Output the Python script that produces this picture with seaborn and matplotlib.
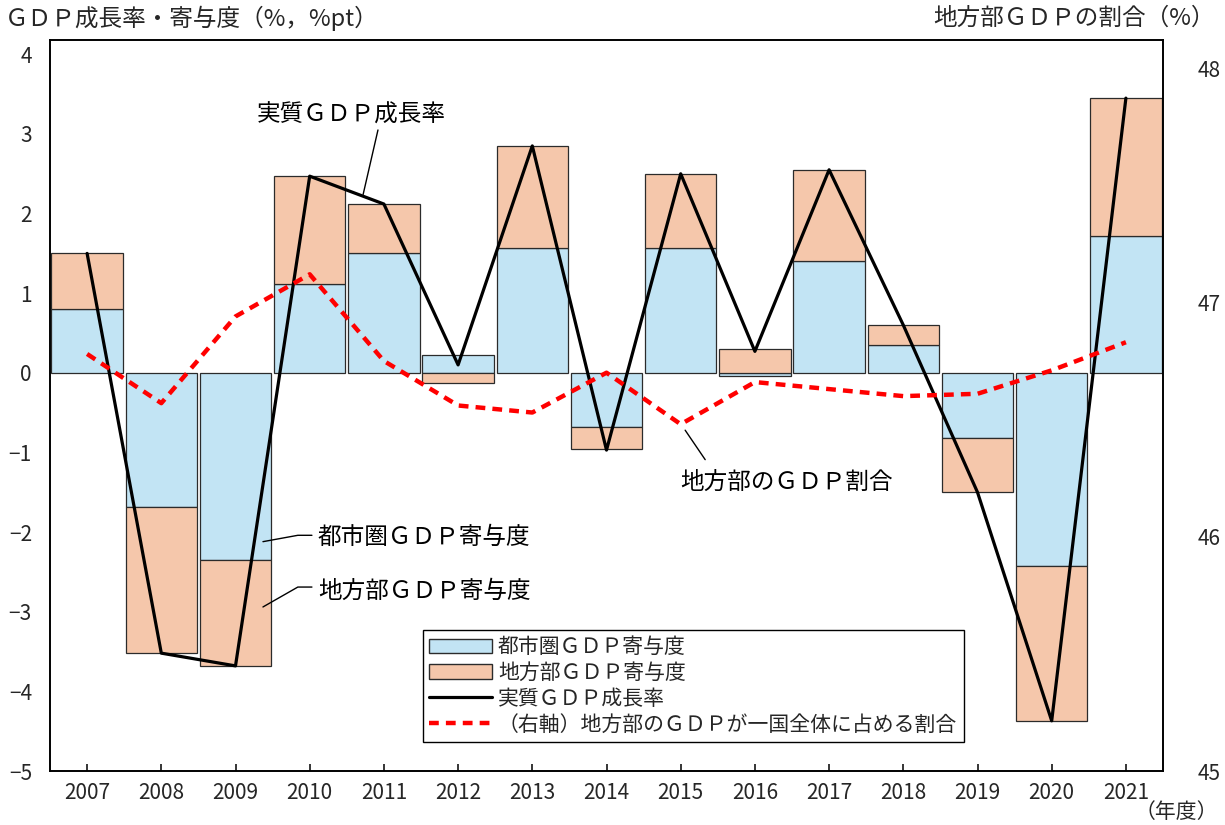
import numpy as np
import pandas as pd
import matplotlib
matplotlib.use("Agg")
import matplotlib.pyplot as plt
from matplotlib.patches import Patch
from matplotlib.lines import Line2D
import seaborn as sns

# ---- data ----
years = ["2007", "2008", "2009", "2010", "2011", "2012", "2013", "2014",
         "2015", "2016", "2017", "2018", "2019", "2020", "2021"]
urban = [0.80, -1.68, -2.35, 1.12, 1.50, 0.23, 1.57, -0.68,
         1.57, -0.04, 1.40, 0.35, -0.82, -2.43, 1.72]
regional = [0.70, -1.84, -1.33, 1.35, 0.62, -0.13, 1.28, -0.27,
            0.93, 0.30, 1.15, 0.25, -0.67, -1.94, 1.73]
growth = [1.50, -3.52, -3.68, 2.47, 2.12, 0.10, 2.85, -0.97,
          2.50, 0.27, 2.55, 0.60, -1.50, -4.37, 3.45]
share = [46.78, 46.57, 46.94, 47.12, 46.75, 46.56, 46.53, 46.70,
         46.48, 46.66, 46.63, 46.60, 46.61, 46.71, 46.83]
left_ticks = [-5, -4, -3, -2, -1, 0, 1, 2, 3, 4]
right_ticks = [45, 46, 47, 48]

lab_urban = "都市圏ＧＤＰ寄与度"
lab_reg = "地方部ＧＤＰ寄与度"
lab_growth = "実質ＧＤＰ成長率"
lab_share = "（右軸）地方部のＧＤＰが一国全体に占める割合"

sns.set_theme(style="white")
plt.rcParams["font.family"] = ["Noto Sans CJK JP", "DejaVu Sans"]
plt.rcParams["axes.unicode_minus"] = True

C_BLUE = "#C2E4F4"
C_PEACH = "#F5C7AB"
C_EDGE = "#2b2b2b"

fig = plt.figure(figsize=(12.25, 8.25), dpi=100)
ax = fig.add_axes([50 / 1225, 1 - 771 / 825, 1113 / 1225, 731 / 825])

df = pd.DataFrame({"year": years, "urban": urban, "regional": regional,
                   "growth": growth, "share": share})
df["bottom"] = [u if np.sign(u) == np.sign(r) else 0.0
                for u, r in zip(urban, regional)]
idx = np.arange(len(years))

sns.barplot(data=df, x="year", y="urban", color=C_BLUE, saturation=1,
            width=0.96, edgecolor=C_EDGE, linewidth=0.9, ax=ax, zorder=2)
sns.barplot(data=df, x="year", y="regional", color=C_PEACH, saturation=1,
            width=0.96, edgecolor=C_EDGE, linewidth=0.9, ax=ax,
            bottom=df["bottom"].values, zorder=2)
sns.lineplot(x=idx, y=df["growth"].values, color="black", linewidth=2.3,
             ax=ax, zorder=4, sort=False)

ax.set_xlim(-0.5, len(years) - 0.5)
ax.set_ylim(-5, 4.18)
ax.set_yticks(left_ticks)
ax.set_yticklabels([str(t).replace("-", "\u2212") for t in left_ticks])
ax.set_xlabel("")
ax.set_ylabel("")
ax.tick_params(axis="y", length=0, pad=13, labelsize=15)
ax.tick_params(axis="x", direction="in", length=5, width=1.1, color="black",
               pad=8, labelsize=15, bottom=True)
for s in ax.spines.values():
    s.set_color("black")
    s.set_linewidth(1.2)

ax2 = ax.twinx()
sns.lineplot(x=idx, y=df["share"].values, color="#FF0000", linewidth=3.2,
             linestyle=(0, (2.2, 1.6)), ax=ax2, zorder=5, sort=False)
ax2.set_ylim(45, 48.12)
ax2.set_yticks(right_ticks)
ax2.tick_params(axis="y", length=0, pad=25, labelsize=15)
ax2.set_ylabel("")
for s in ax2.spines.values():
    s.set_color("black")
    s.set_linewidth(1.2)
ax2.set_xlim(-0.5, len(years) - 0.5)

# ---- annotations ----
tk = dict(fontsize=17, ha="left", va="center", color="black")
ax.text(2.29, 3.23, lab_growth, **tk)
ax.plot([3.92, 3.72], [3.05, 2.24], color="black", lw=1.0, zorder=6)
ax.text(3.11, -2.07, lab_urban, **tk)
ax.plot([3.03, 2.84, 2.37], [-2.04, -2.04, -2.12], color="black", lw=1.0, zorder=6)
ax.text(3.11, -2.75, lab_reg, **tk)
ax.plot([3.03, 2.84, 2.37], [-2.69, -2.69, -2.94], color="black", lw=1.0, zorder=6)
ax.text(7.99, -1.37, "地方部のＧＤＰ割合", **tk)
ax.plot([8.06, 8.33], [-0.72, -1.09], color="black", lw=1.0, zorder=6)

# ---- legend ----
handles = [
    Patch(facecolor=C_BLUE, edgecolor=C_EDGE, linewidth=1.0, label=lab_urban),
    Patch(facecolor=C_PEACH, edgecolor=C_EDGE, linewidth=1.0, label=lab_reg),
    Line2D([], [], color="black", linewidth=2.3, label=lab_growth),
    Line2D([], [], color="#FF0000", linewidth=3.2, linestyle=(0, (2.2, 1.6)),
           label=lab_share),
]
leg = ax2.legend(handles=handles, loc="upper left",
                 bbox_to_anchor=(423 / 1225, 1 - 630 / 825),
                 bbox_transform=fig.transFigure, fontsize=15, frameon=True,
                 fancybox=False, framealpha=1, edgecolor="black",
                 handlelength=3.0, handleheight=0.7, handletextpad=0.3,
                 labelspacing=0.18, borderpad=0.3, borderaxespad=0)
leg.get_frame().set_linewidth(1.0)

# ---- titles ----
fig.text(5 / 1225, 1 - 18 / 825, "ＧＤＰ成長率・寄与度（%，%pt）",
         fontsize=17, ha="left", va="center")
fig.text(1215 / 1225, 1 - 18 / 825, "地方部ＧＤＰの割合（%）",
         fontsize=17, ha="right", va="center")
fig.text(1218 / 1225, 1 - 812 / 825, "（年度）",
         fontsize=15, ha="right", va="center")

fig.savefig("out.png", dpi=100)
